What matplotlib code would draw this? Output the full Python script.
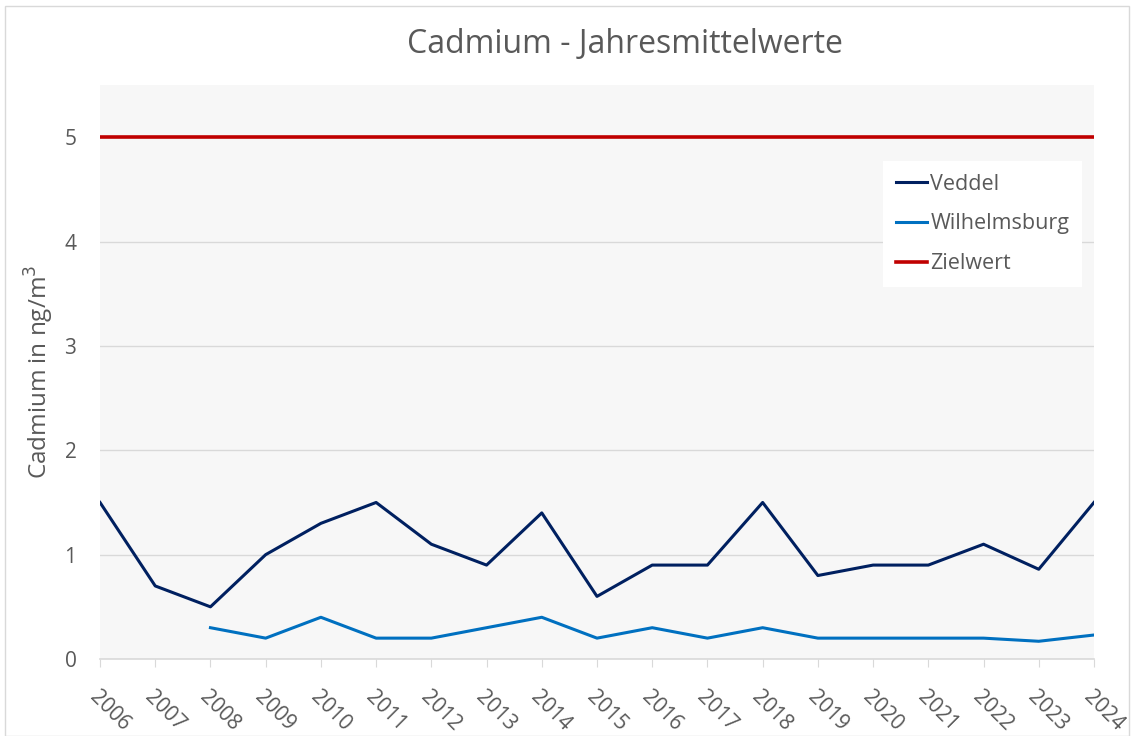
import numpy as np
import matplotlib.pyplot as plt
import matplotlib.patches as mpatches

plt.rcParams.update({'font.family': ['Open Sans', 'DejaVu Sans']})

# Jahre und Messwerte (ng/m3)
years = list(range(2006, 2025))
veddel = [1.5, 0.7, 0.5, 1.0, 1.3, 1.5, 1.1, 0.9, 1.4, 0.6, 0.9, 0.9, 1.5, 0.8, 0.9, 0.9, 1.1, 0.86, 1.5]
wilhelmsburg = [np.nan, np.nan, 0.3, 0.2, 0.4, 0.2, 0.2, 0.3, 0.4, 0.2, 0.3, 0.2, 0.3, 0.2, 0.2, 0.2, 0.2, 0.17, 0.23]
zielwert = [5] * len(years)

text_col = '#595959'

fig = plt.figure(figsize=(11.34, 7.36), dpi=100)
# thin frame round the chart like the Excel export
fig.patches.append(mpatches.Rectangle((0.004, 0.0), 0.992, 0.992, transform=fig.transFigure,
                                      fill=False, edgecolor='#D9D9D9', linewidth=1))
ax = fig.add_axes([0.0882, 0.1046, 0.8765, 0.7799])
ax.set_facecolor('#F7F7F7')

x = np.arange(len(years))
ax.plot(x, veddel, color='#002060', linewidth=2.2, label='Veddel')
ax.plot(x, wilhelmsburg, color='#0070C0', linewidth=2.2, label='Wilhelmsburg')
ax.plot(x, zielwert, color='#C00000', linewidth=2.6, label='Zielwert')

ax.set_xlim(0, len(years) - 1)
ax.set_ylim(0, 5.5)
ax.set_yticks([0, 1, 2, 3, 4, 5])
ax.yaxis.grid(True, color='#D9D9D9', linewidth=1)
ax.set_axisbelow(True)

for s in ['top', 'right', 'left']:
    ax.spines[s].set_visible(False)
ax.spines['bottom'].set_color('#D9D9D9')
ax.spines['bottom'].set_linewidth(1.2)

ax.set_xticks(x)
ax.set_xticklabels([str(y) for y in years], rotation=-45, ha='left', va='top',
                   rotation_mode='anchor', fontsize=15, color=text_col)
ax.tick_params(axis='x', length=6, color='#D9D9D9', pad=14)
ax.tick_params(axis='y', length=0, pad=17, labelsize=15, labelcolor=text_col)

ax.set_ylabel('Cadmium in ng/m$^3$', fontsize=17.5, color=text_col, labelpad=6)
fig.text(0.551, 0.94, 'Cadmium - Jahresmittelwerte', ha='center', va='center',
         fontsize=23, color=text_col)

leg = ax.legend(loc='upper left', bbox_to_anchor=(0.777, 0.887), frameon=True, fontsize=15.5,
                handlelength=1.45, handletextpad=0.15, labelspacing=0.88, borderpad=0.6)
leg.get_frame().set_facecolor('white')
leg.get_frame().set_edgecolor('none')
leg.get_frame().set_boxstyle('square', pad=0)
leg.get_frame().set_alpha(1)
for t in leg.get_texts():
    t.set_color(text_col)

fig.savefig('out.png', dpi=100)
